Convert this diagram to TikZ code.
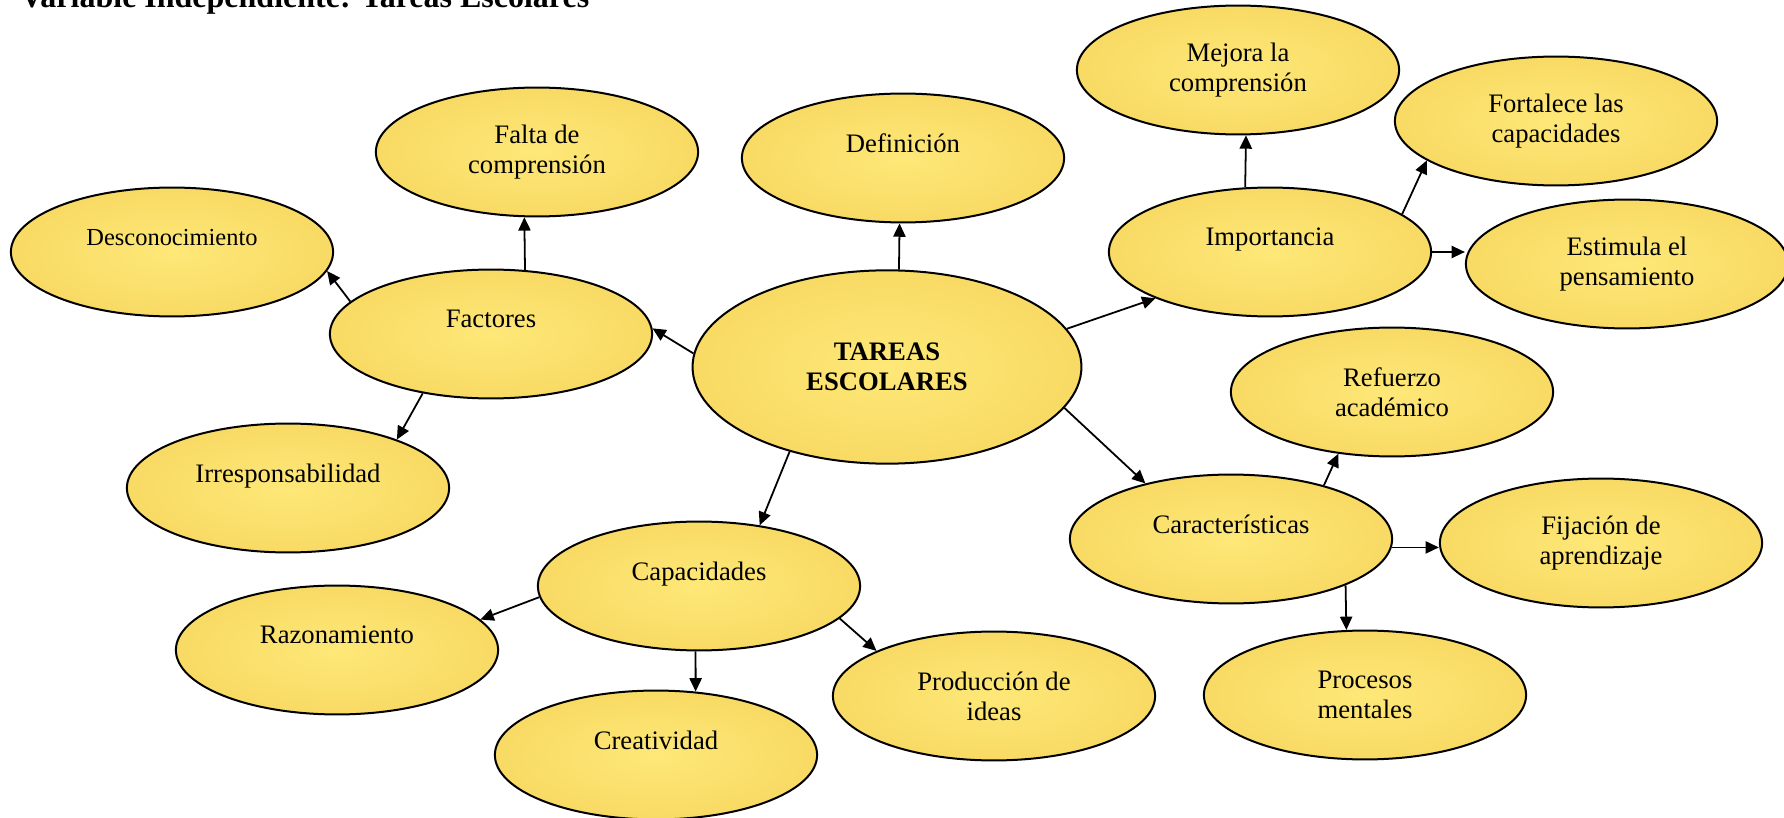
\documentclass[tikz,border=0pt]{standalone}
\usepackage{fontspec}
\setmainfont{Liberation Serif}
\usetikzlibrary{arrows.meta,shapes.geometric}

\begin{document}
\begin{tikzpicture}[->, x=0.45pt, y=-0.45pt, line width=0.8pt,
    >={Triangle[length=6pt,width=5.5pt]},
    bubble/.style = {shape=ellipse, draw, line width=0.9pt, align=center,
    inner sep=0pt, minimum width=145pt, minimum height=58pt,
    inner color={rgb,255:red,254;green,232;blue,120},
    outer color={rgb,255:red,248;green,218;blue,100},
    font=\fontsize{12}{13.5}\selectfont},
    cbig/.style={minimum width=175pt, minimum height=87pt,
    font=\fontsize{12}{13.5}\selectfont\bfseries},
    csmall/.style={font=\fontsize{11}{13}\selectfont}]
    \useasboundingbox (0,0) rectangle (1784,818);
    \node[anchor=base west, font=\fontsize{14.4}{16}\selectfont\bfseries] (title) at (12,8)
        {Variable Independiente: Tareas Escolares};
    \node[bubble, cbig] (cen) at (887, 367) {TAREAS\\ESCOLARES};
    \node[bubble] (def) at (903, 158) {Definición\\~};
    \node[bubble] (falta) at (537, 152) {Falta de\\comprensión};
    \node[bubble, csmall] (desc) at (172, 252) {Desconocimiento\\~};
    \node[bubble] (fac) at (491, 334) {Factores\\~};
    \node[bubble] (irr) at (288, 488) {Irresponsabilidad\\~};
    \node[bubble] (cap) at (699, 586) {Capacidades\\~};
    \node[bubble] (raz) at (337, 650) {Razonamiento\\~};
    \node[bubble] (crea) at (656, 755) {Creatividad\\~};
    \node[bubble] (prod) at (994, 696) {Producción de\\ideas};
    \node[bubble] (imp) at (1270, 252) {Importancia\\~};
    \node[bubble] (mej) at (1238, 70) {Mejora la\\comprensión};
    \node[bubble] (fort) at (1556, 121) {Fortalece las\\capacidades};
    \node[bubble] (est) at (1627, 264) {Estimula el\\pensamiento};
    \node[bubble] (ref) at (1392, 392) {Refuerzo\\académico};
    \node[bubble] (car) at (1231, 539) {Características\\~};
    \node[bubble] (fij) at (1601, 543) {Fijación de\\aprendizaje};
    \node[bubble] (proc) at (1365, 695) {Procesos\\mentales};
    % ramas del nodo central
    \path
        (cen.83) edge (def.267)
        (cen.176) edge (fac.2)
        (cen.221) edge (cap.45)
        (cen.12) edge (imp.202)
        (cen.-13.5) edge (car.147);
    % factores
    \path
        (fac.62) edge (falta.259)
        (fac.167) edge (desc.353)
        (fac.221) edge (irr.24);
    % capacidades
    \path
        (cap.184) edge (raz.12)
        (cap.267) edge (crea.58)
        (cap.-13) edge (prod.159);
    % importancia
    \path
        (imp.111) edge (mej.277)
        (imp.16) edge (fort.197)
        (imp.east) edge (imp.east -| est.west);
    % caracteristicas
    \path
        (car.30) edge (ref.229)
        (car.-3) edge (car.-3 -| fij.west)
        (car.-22) edge (proc.106);
\end{tikzpicture}
\end{document}
